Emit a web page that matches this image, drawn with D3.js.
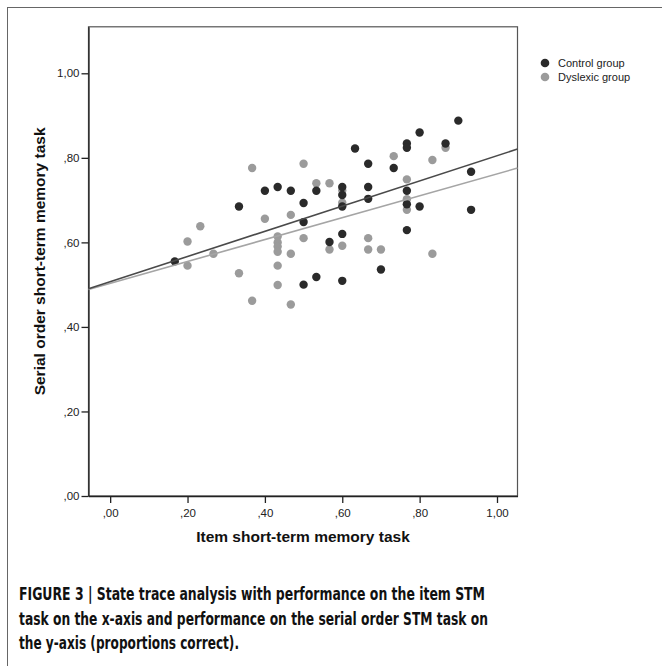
<!DOCTYPE html>
<html>
<head>
<meta charset="utf-8">
<script src="https://cdn.jsdelivr.net/npm/d3@7"></script>
<style>
  body { margin: 0; background: #fff; }
  svg { display: block; }
</style>
</head>
<body>
<div id="draw"></div>
<script>
// item STM (x) vs serial order STM (y), proportions correct
var controlX = [0.167, 0.333, 0.400, 0.433, 0.467, 0.500, 0.500, 0.500, 0.533, 0.533, 0.567,
                0.600, 0.600, 0.600, 0.600, 0.600, 0.633, 0.667, 0.667, 0.667, 0.700, 0.733,
                0.767, 0.767, 0.767, 0.767, 0.767, 0.800, 0.800, 0.867, 0.900, 0.933, 0.933];
var controlY = [0.555, 0.685, 0.722, 0.731, 0.722, 0.693, 0.648, 0.500, 0.722, 0.518, 0.601,
                0.731, 0.712, 0.685, 0.620, 0.509, 0.822, 0.786, 0.731, 0.703, 0.536, 0.776,
                0.834, 0.824, 0.722, 0.690, 0.629, 0.860, 0.685, 0.834, 0.888, 0.767, 0.677];

var dyslexicX = [0.200, 0.200, 0.233, 0.267, 0.333, 0.367, 0.367, 0.400, 0.433, 0.433, 0.433,
                 0.433, 0.433, 0.433, 0.467, 0.467, 0.467, 0.500, 0.500, 0.533, 0.567, 0.567,
                 0.600, 0.600, 0.600, 0.667, 0.667, 0.700, 0.733, 0.767, 0.767, 0.767, 0.833,
                 0.833, 0.867];
var dyslexicY = [0.602, 0.545, 0.638, 0.573, 0.527, 0.776, 0.462, 0.656, 0.614, 0.600, 0.590,
                 0.578, 0.545, 0.499, 0.665, 0.573, 0.453, 0.786, 0.610, 0.740, 0.740, 0.583,
                 0.723, 0.694, 0.592, 0.610, 0.583, 0.583, 0.804, 0.749, 0.702, 0.677, 0.795,
                 0.573, 0.824];

// fit lines: [intercept, slope]
var controlFit = [0.507, 0.298];
var dyslexicFit = [0.503, 0.259];

var groups = ['Control group', 'Dyslexic group'];
var xTicks = [0, 0.2, 0.4, 0.6, 0.8, 1.0];
var yTicks = [0, 0.2, 0.4, 0.6, 0.8, 1.0];
var xTitle = 'Item short-term memory task';
var yTitle = 'Serial order short-term memory task';
var captionLines = [
  'FIGURE 3 | State trace analysis with performance on the item STM',
  'task on the x-axis and performance on the serial order STM task on',
  'the y-axis (proportions correct).'
];

var W = 662, H = 666;
var dark = '#2a2a2a', grey = '#9b9b9b';

var svg = d3.select('#draw').append('svg')
  .attr('width', W).attr('height', H);

// outer figure frame (top + left)
svg.append('line').attr('x1', 7).attr('y1', 7.5).attr('x2', W).attr('y2', 7.5)
  .attr('stroke', '#666').attr('stroke-width', 1);
svg.append('line').attr('x1', 7.5).attr('y1', 7).attr('x2', 7.5).attr('y2', H)
  .attr('stroke', '#666').attr('stroke-width', 1);

var x = d3.scaleLinear().domain([-0.056, 1.053]).range([88.5, 517.5]);
var y = d3.scaleLinear().domain([0, 1.11]).range([496, 26.8]);

var fmt = function(v) { return v >= 1 ? '1,00' : ',' + d3.format('02d')(Math.round(v * 100)); };

// plot frame
svg.append('rect')
  .attr('x', x.range()[0]).attr('y', y.range()[1])
  .attr('width', x.range()[1] - x.range()[0])
  .attr('height', y.range()[0] - y.range()[1])
  .attr('fill', 'none').attr('stroke', '#555').attr('stroke-width', 1.2);

var xAxis = svg.append('g')
  .attr('transform', 'translate(0,' + y.range()[0] + ')')
  .call(d3.axisBottom(x).tickValues(xTicks).tickFormat(fmt).tickSize(7).tickSizeOuter(0).tickPadding(6));
var yAxis = svg.append('g')
  .attr('transform', 'translate(' + x.range()[0] + ',0)')
  .call(d3.axisLeft(y).tickValues(yTicks).tickFormat(fmt).tickSize(7).tickSizeOuter(0).tickPadding(2));

[xAxis, yAxis].forEach(function(g) {
  g.select('.domain').attr('stroke', '#222').attr('stroke-width', 1.3);
  g.selectAll('.tick line').attr('stroke', '#222').attr('stroke-width', 1.3);
  g.selectAll('.tick text')
    .attr('fill', '#222')
    .attr('font-family', 'Liberation Sans, Arial, sans-serif')
    .attr('font-size', 11.5);
});

// fit lines
function fitLine(fit, col, w) {
  var d0 = x.domain();
  svg.append('line')
    .attr('x1', x(d0[0])).attr('y1', y(fit[0] + fit[1] * d0[0]))
    .attr('x2', x(d0[1])).attr('y2', y(fit[0] + fit[1] * d0[1]))
    .attr('stroke', col).attr('stroke-width', w);
}

// points
function dots(xs, ys, col) {
  svg.append('g').selectAll('circle')
    .data(xs)
    .enter().append('circle')
    .attr('cx', function(d) { return x(d); })
    .attr('cy', function(d, i) { return y(ys[i]); })
    .attr('r', 4.2)
    .attr('fill', col);
}

dots(dyslexicX, dyslexicY, grey);
dots(controlX, controlY, dark);
fitLine(dyslexicFit, '#a5a5a5', 1.6);
fitLine(controlFit, '#4a4a4a', 1.6);

// legend
var lg = svg.append('g').attr('transform', 'translate(545,63)');
groups.forEach(function(name, i) {
  lg.append('circle').attr('cx', 0).attr('cy', i * 14).attr('r', 4.3)
    .attr('fill', i === 0 ? dark : grey);
  lg.append('text').attr('x', 13).attr('y', i * 14 + 4)
    .attr('font-family', 'Liberation Sans, Arial, sans-serif')
    .attr('font-size', 11).attr('fill', '#222')
    .text(name);
});

// axis titles
svg.append('text')
  .attr('x', (x.range()[0] + x.range()[1]) / 2).attr('y', 542)
  .attr('text-anchor', 'middle')
  .attr('font-family', 'Liberation Sans, Arial, sans-serif')
  .attr('font-weight', 'bold').attr('font-size', 15.5).attr('fill', '#111')
  .text(xTitle);
svg.append('text')
  .attr('transform', 'translate(45,' + ((y.range()[0] + y.range()[1]) / 2) + ') rotate(-90)')
  .attr('text-anchor', 'middle')
  .attr('font-family', 'Liberation Sans, Arial, sans-serif')
  .attr('font-weight', 'bold').attr('font-size', 15.5).attr('fill', '#111')
  .text(yTitle);

// caption
var capLen = [466, 469, 220];
captionLines.forEach(function(t, i) {
  svg.append('text')
    .attr('x', 19).attr('y', 600 + i * 24.5)
    .attr('font-family', 'Liberation Sans Narrow, DejaVu Sans Condensed, sans-serif')
    .attr('font-weight', 'bold').attr('font-size', 17).attr('fill', '#111')
    .attr('textLength', capLen[i]).attr('lengthAdjust', 'spacingAndGlyphs')
    .text(t);
});
</script>
</body>
</html>
